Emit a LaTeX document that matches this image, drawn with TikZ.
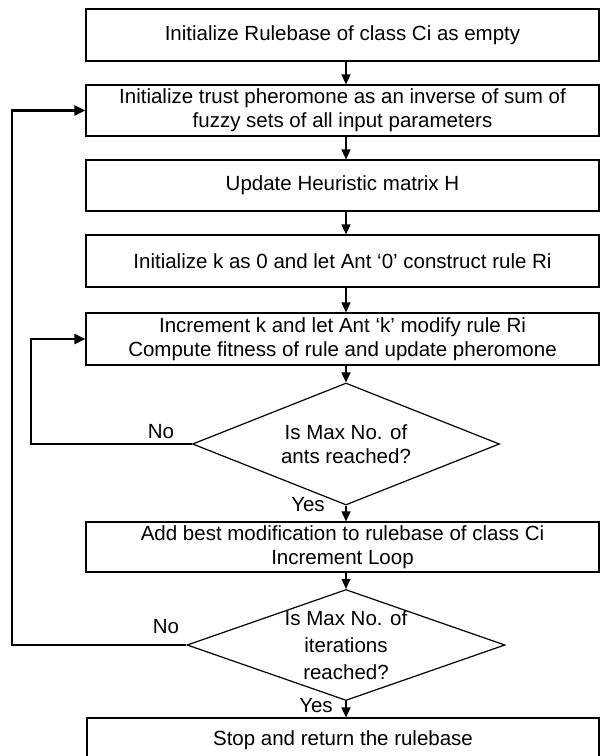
\documentclass[tikz,border=0pt]{standalone}
\usepackage{fontspec}
\setmainfont{Liberation Sans}
\usetikzlibrary{arrows.meta, shapes.geometric}

\begin{document}
\begin{tikzpicture}[x=1pt, y=-1pt,
    font=\fontsize{20.5}{24}\selectfont,
    stepbox/.style={draw, rectangle, line width=1.2pt, minimum width=513pt, inner sep=0pt, align=center},
    decision/.style={draw, diamond, line width=1.2pt, inner sep=0pt},
    arr/.style={line width=1.6pt, -{Triangle[length=10pt, width=9pt]}},
    looparr/.style={line width=2.2pt, -{Triangle[length=11pt, width=10pt]}}]

    \useasboundingbox (0,0) rectangle (600,756);

	% Nodes
    \node[stepbox, minimum height=52pt] (b1) at (342.5,35) {Initialize Rulebase of class Ci as empty};
    \node[stepbox, minimum height=51pt] (b2) at (342.5,110.5) {Initialize trust pheromone as an inverse of sum of\\fuzzy sets of all input parameters};
    \node[stepbox, minimum height=51pt] (b3) at (342.5,185.5) {Update Heuristic matrix H};
    \node[stepbox, minimum height=52pt] (b4) at (342.5,261) {Initialize k as 0 and let Ant `0' construct rule Ri};
    \node[stepbox, minimum height=52pt] (b5) at (342.5,339) {Increment k and let Ant `k' modify rule Ri\\Compute fitness of rule and update pheromone};

    \node[decision, minimum width=307pt, minimum height=122pt] (d1) at (346,444) {};
        \node[align=center] (d1txt) at (d1) {Is Max No. of\\ants reached?};
        \node (no1) at (161,432) {No};
        \node (yes1) at (308,505) {Yes};

    \node[stepbox, minimum height=50pt] (b6) at (342.5,547) {Add best modification to rulebase of class Ci\\Increment Loop};

    \node[decision, minimum width=318pt, minimum height=111pt] (d2) at (346,645) {};
        \node[align=center] (d2txt) at (d2) {Is Max No. of\\[3pt]iterations\\[3pt]reached?};
        \node (no2) at (166,627) {No};
        \node (yes2) at (316,706) {Yes};

    \node[stepbox, minimum width=512pt, minimum height=44pt] (b7) at (343,740) {Stop and return the rulebase};

    \coordinate (loopa) at (31,0);
    \coordinate (loopb) at (12,0);

    % Arrows
    \draw[arr] (b1.south -| d1) -- (b2.north -| d1);
    \draw[arr] (b2.south -| d1) -- (b3.north -| d1);
    \draw[arr] (b3.south -| d1) -- (b4.north -| d1);
    \draw[arr] (b4.south -| d1) -- (b5.north -| d1);
    \draw[arr] (b5.south -| d1) -- (d1.north);
    \draw[arr] (d1.south) -- (b6.north -| d1);
    \draw[arr] (b6.south -| d2) -- (d2.north);
    \draw[arr] (d2.south) -- (b7.north -| d2);
    \draw[looparr] (d1.west) -- (d1.west -| loopa) |- (b5.west);
    \draw[looparr] (d2.west) -- (d2.west -| loopb) |- (b2.west);

\end{tikzpicture}
\end{document}
